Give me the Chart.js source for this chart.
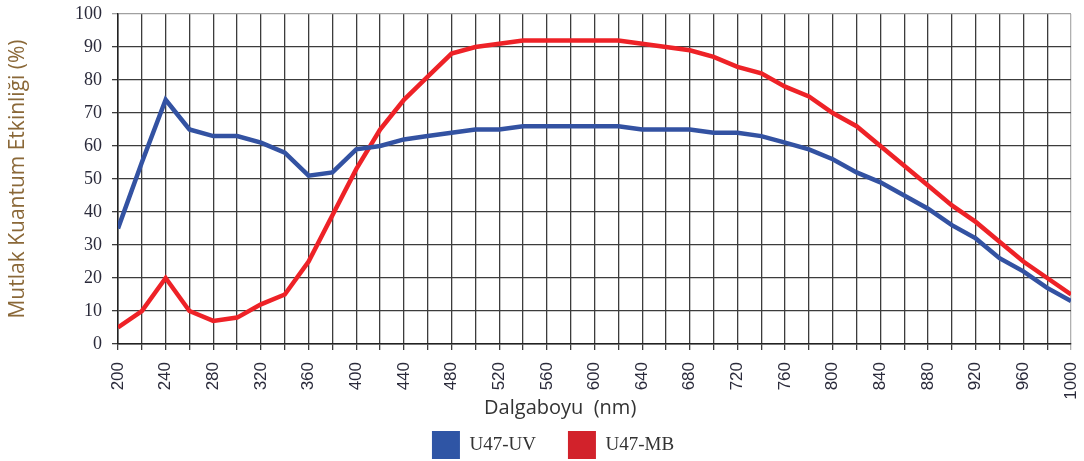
<!DOCTYPE html>
<html>
<head>
<meta charset="utf-8">
<script src="https://cdn.jsdelivr.net/npm/chart.js@4.4.1/dist/chart.umd.min.js"></script>
<style>
  html, body { margin: 0; padding: 0; background: #fff; }
  #wrap { width: 1084px; height: 461px; }
</style>
</head>
<body>
<div id="wrap"><canvas id="myChart" width="1084" height="461"></canvas></div>
<script>
// wavelength (nm) and absolute quantum efficiency (%)
const wavelengths = [200, 220, 240, 260, 280, 300, 320, 340, 360, 380, 400, 420, 440, 460, 480, 500, 520, 540, 560, 580, 600,
                     620, 640, 660, 680, 700, 720, 740, 760, 780, 800, 820, 840, 860, 880, 900, 920, 940, 960, 980, 1000];
const u47_uv = [35, 55, 74, 65, 63, 63, 61, 58, 51, 52, 59, 60, 62, 63, 64, 65, 65, 66, 66, 66, 66,
                66, 65, 65, 65, 64, 64, 63, 61, 59, 56, 52, 49, 45, 41, 36, 32, 26, 22, 17, 13];
const u47_mb = [5, 10, 20, 10, 7, 8, 12, 15, 25, 39, 53, 65, 74, 81, 88, 90, 91, 92, 92, 92, 92,
                92, 91, 90, 89, 87, 84, 82, 78, 75, 70, 66, 60, 54, 48, 42, 37, 31, 25, 20, 15];
const series_names = ['U47-UV', 'U47-MB'];
const y_title = 'Mutlak Kuantum Etkinliği (%)';
const x_title = 'Dalgaboyu  (nm)';

function points(values) {
    return wavelengths.map((w, i) => ({x: w, y: values[i]}));
}

// draws the x axis title a bit left of the plot centre, like the original
const xTitlePlugin = {
    id: 'xTitle',
    afterDraw(chart) {
        const c = chart.ctx;
        const area = chart.chartArea;
        c.save();
        c.font = '20px "Open Sans"';
        c.fillStyle = '#333333';
        c.textAlign = 'center';
        c.textBaseline = 'middle';
        c.fillText(x_title, area.left + (area.right - area.left) * 0.464, area.bottom + 64);
        c.restore();
    }
};

const ctx = document.getElementById('myChart');
const myChart = new Chart(ctx, {
    type: 'line',
    data: {
        datasets: [
            {
                label: series_names[0],
                data: points(u47_uv),
                borderColor: '#3352a2',
                backgroundColor: '#2f55a5',
                borderWidth: 4.5,
                pointRadius: 0,
                tension: 0,
            },
            {
                label: series_names[1],
                data: points(u47_mb),
                borderColor: '#ee2227',
                backgroundColor: '#d2222b',
                borderWidth: 4.5,
                pointRadius: 0,
                tension: 0,
            },
        ]
    },
    options: {
        responsive: false,
        animation: false,
        layout: {
            padding: {left: 35, right: 13, top: 14, bottom: -8}
        },
        plugins: {
            legend: {
                position: 'bottom',
                labels: {
                    boxWidth: 28,
                    boxHeight: 28,
                    padding: 32,
                    color: '#333333',
                    font: {family: '"Liberation Serif"', size: 19},
                    generateLabels: (chart) => chart.data.datasets.map((ds, i) => ({
                        text: ds.label,
                        fillStyle: ds.backgroundColor,
                        strokeStyle: ds.backgroundColor,
                        lineWidth: 0,
                        datasetIndex: i,
                        fontColor: '#333333',
                    })),
                }
            },
            tooltip: {enabled: false},
        },
        scales: {
            x: {
                type: 'linear',
                min: 200,
                max: 1000,
                afterFit: (scale) => {
                    scale.height = 55;
                    scale.paddingLeft = 0;
                    scale.paddingRight = 0;
                },
                border: {color: '#222222', width: 1.5},
                grid: {
                    color: (c) => c.tick && c.tick.value === 1000 ? '#b0b0b0' : '#3c3c3c',
                    lineWidth: 1.3,
                    tickLength: 6,
                },
                ticks: {
                    stepSize: 20,
                    autoSkip: false,
                    minRotation: 90,
                    maxRotation: 90,
                    padding: 12,
                    color: '#2a2a3a',
                    font: {family: '"Liberation Sans"', size: 17},
                    callback: (v) => v % 40 === 0 ? v : '',
                },
            },
            y: {
                min: 0,
                max: 100,
                afterFit: (scale) => {
                    scale.width = 83;
                    scale.paddingTop = 0;
                    scale.paddingBottom = 0;
                },
                border: {color: '#222222', width: 1.5},
                grid: {
                    color: (c) => c.tick && c.tick.value === 100 ? '#a0a0a0' : '#3c3c3c',
                    lineWidth: 1.3,
                    tickLength: 6,
                },
                ticks: {
                    stepSize: 10,
                    padding: 10,
                    color: '#2a2a3a',
                    font: {family: '"Liberation Serif"', size: 18},
                },
                title: {
                    display: true,
                    text: y_title,
                    color: '#8a6838',
                    padding: {top: -30, bottom: 0},
                    font: {family: '"Open Sans"', size: 21},
                },
            }
        }
    },
    plugins: [xTitlePlugin]
});
</script>
</body>
</html>
